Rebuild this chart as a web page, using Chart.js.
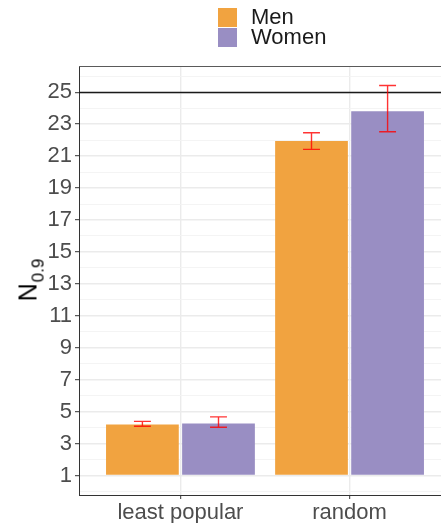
<!DOCTYPE html>
<html>
<head>
<meta charset="utf-8">
<script src="https://cdn.jsdelivr.net/npm/chart.js@4.4.1/dist/chart.umd.min.js"></script>
<style>
  html, body { margin: 0; padding: 0; background: #fff; width: 441px; height: 523px; overflow: hidden; }
  #wrap { position: relative; width: 441px; height: 523px; overflow: hidden; }
  canvas { position: absolute; left: 0; top: 0; }
  #legend { position: absolute; left: 218px; top: 7px; font-family: "Liberation Sans", Arial, sans-serif; font-size: 22px; color: #1a1a1a; }
  .item { display: flex; align-items: center; height: 20px; margin-bottom: 0px; }
  .sw { width: 19px; height: 19px; margin-right: 14px; }
  #ytitle { position: absolute; left: 28px; top: 280px; transform: translate(-50%, -50%) rotate(-90deg); font-family: "Liberation Sans", Arial, sans-serif; color: #000; white-space: nowrap; }
  #ytitle .n { font-size: 25px; }
  #ytitle .s { font-size: 17px; position: relative; top: 7px; margin-left: 1px; }
</style>
</head>
<body>
<div id="wrap">
  <canvas id="c" width="460" height="523"></canvas>
  <div id="legend"></div>
  <div id="ytitle"><span class="n">N</span><span class="s">0.9</span></div>
</div>
<script>
// ---- data ----
const CATEGORIES = ['least popular', 'random'];
const SERIES = ['Men', 'Women'];
const COLORS = ['#F1A340', '#998EC3'];
const MEN = [4.19, 21.94];
const WOMEN = [4.25, 23.81];
const MEN_LOW = [4.08, 21.42];
const MEN_HIGH = [4.39, 22.46];
const WOMEN_LOW = [4.02, 22.52];
const WOMEN_HIGH = [4.67, 25.42];
const Y_TICK_LABELS = [1, 3, 5, 7, 9, 11, 13, 15, 17, 19, 21, 23, 25];
const REF_LINE = 25;
const BAR_BASE = 1;

const VALUES = [MEN, WOMEN];
const LOWS = [MEN_LOW, WOMEN_LOW];
const HIGHS = [MEN_HIGH, WOMEN_HIGH];

// ggplot-like 5% expansion of data range
const dataMin = Math.min(BAR_BASE, ...MEN_LOW, ...WOMEN_LOW);
const dataMax = Math.max(...MEN_HIGH, ...WOMEN_HIGH, REF_LINE);
const span = dataMax - dataMin;
const Y_MIN = dataMin - 0.05 * span;
const Y_MAX = dataMax + 0.05 * span;

// legend (HTML)
const legend = document.getElementById('legend');
SERIES.forEach((s, i) => {
  const d = document.createElement('div');
  d.className = 'item';
  d.innerHTML = '<div class="sw" style="background:' + COLORS[i] + '"></div><span>' + s + '</span>';
  legend.appendChild(d);
});

const FONT = '"Liberation Sans", Arial, sans-serif';

const overlay = {
  id: 'overlay',
  afterDatasetsDraw(chart) {
    const { ctx, chartArea: a, scales: { x, y } } = chart;
    ctx.save();
    ctx.beginPath();
    ctx.rect(a.left, a.top, a.right - a.left, a.bottom - a.top);
    ctx.clip();
    // reference line
    const ry = Math.round(y.getPixelForValue(REF_LINE)) + 0.5;
    ctx.strokeStyle = '#1a1a1a';
    ctx.lineWidth = 1.3;
    ctx.beginPath();
    ctx.moveTo(a.left, ry);
    ctx.lineTo(a.right, ry);
    ctx.stroke();
    // error bars
    const capHalf = (x.getPixelForValue(1.05) - x.getPixelForValue(1));
    ctx.strokeStyle = 'rgba(255,0,0,0.8)';
    ctx.lineWidth = 1.4;
    VALUES.forEach((vals, di) => {
      const meta = chart.getDatasetMeta(di);
      meta.data.forEach((bar, i) => {
        const cx = bar.x;
        const lo = y.getPixelForValue(LOWS[di][i]);
        const hi = y.getPixelForValue(HIGHS[di][i]);
        ctx.beginPath();
        ctx.moveTo(cx, lo); ctx.lineTo(cx, hi);
        ctx.moveTo(cx - capHalf, lo); ctx.lineTo(cx + capHalf, lo);
        ctx.moveTo(cx - capHalf, hi); ctx.lineTo(cx + capHalf, hi);
        ctx.stroke();
      });
    });
    ctx.restore();
  },
  afterDraw(chart) {
    const { ctx, chartArea: a } = chart;
    ctx.save();
    ctx.strokeStyle = '#5a5a5a';
    ctx.lineWidth = 1;
    ctx.beginPath();
    ctx.moveTo(a.left, Math.round(a.top) + 0.5);
    ctx.lineTo(a.right, Math.round(a.top) + 0.5);
    ctx.stroke();
    ctx.restore();
  }
};

new Chart(document.getElementById('c'), {
  type: 'bar',
  data: {
    datasets: SERIES.map((s, di) => ({
      label: s,
      data: VALUES[di].map((v, i) => ({ x: i + 1, y: v })),
      backgroundColor: COLORS[di],
      base: BAR_BASE,
      borderWidth: 0,
      categoryPercentage: 0.9,
      barPercentage: 0.956
    }))
  },
  options: {
    responsive: false,
    animation: false,
    devicePixelRatio: 1,
    layout: { padding: { top: 66, right: 9, left: 0, bottom: 0 } },
    plugins: { legend: { display: false }, tooltip: { enabled: false } },
    scales: {
      x: {
        type: 'linear',
        offset: false,
        min: 0.4,
        max: CATEGORIES.length + 0.6,
        afterBuildTicks: s => { s.ticks = CATEGORIES.map((c, i) => ({ value: i + 1 })); },
        afterFit: s => { s.height = 28; },
        ticks: {
          autoSkip: false,
          maxRotation: 0,
          padding: 1,
          color: '#4d4d4d',
          font: { family: FONT, size: 22 },
          callback: v => CATEGORIES[Math.round(v) - 1]
        },
        grid: { offset: false, color: '#ebebeb', lineWidth: 1.4, tickLength: 4, tickColor: '#333', tickWidth: 1 },
        border: { color: '#333', width: 1 }
      },
      y: {
        type: 'linear',
        min: Y_MIN,
        max: Y_MAX,
        afterBuildTicks: s => {
          const t = [];
          for (let v = Math.ceil(Y_MIN); v <= Math.floor(Y_MAX); v++) t.push({ value: v });
          s.ticks = t;
        },
        afterFit: s => { s.width = 79; },
        ticks: {
          autoSkip: false,
          padding: 3,
          color: '#4d4d4d',
          font: { family: FONT, size: 22 },
          callback: v => Y_TICK_LABELS.includes(v) ? String(v) : ''
        },
        grid: {
          color: c => (c.tick && Y_TICK_LABELS.includes(c.tick.value)) ? '#ebebeb' : '#f3f3f3',
          lineWidth: c => (c.tick && Y_TICK_LABELS.includes(c.tick.value)) ? 1.4 : 0.9,
          tickLength: 4,
          tickWidth: 1,
          tickColor: c => (c.tick && Y_TICK_LABELS.includes(c.tick.value)) ? '#333' : 'rgba(0,0,0,0)'
        },
        border: { color: '#333', width: 1 }
      }
    }
  },
  plugins: [overlay]
});
</script>
</body>
</html>
